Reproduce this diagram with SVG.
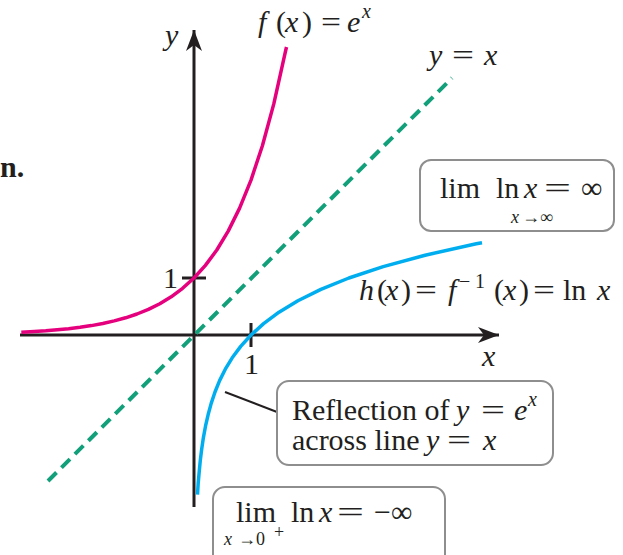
<svg xmlns="http://www.w3.org/2000/svg" width="623" height="555" viewBox="0 0 623 555">
<style>
text{font-family:"Liberation Serif","Times New Roman",serif;fill:#231f20;font-size:30px}
.i{font-style:italic}
.s{font-size:18px}
.sp{font-size:20px}
.box{fill:#ffffff;stroke:#8e8e8e;stroke-width:2}
.ax{stroke:#231f20;stroke-width:3;fill:none}
.tick{stroke:#231f20;stroke-width:3}
.exp{fill:none;stroke:#e5007d;stroke-width:3.5;stroke-linejoin:round}
.ln{fill:none;stroke:#00aeef;stroke-width:3.5;stroke-linejoin:round}
.yx{fill:none;stroke:#12a07a;stroke-width:4;stroke-dasharray:12 7}
.lead{stroke:#231f20;stroke-width:2}
</style>
<defs>
<marker id="ah" viewBox="-22 -10 24 20" refX="0" refY="0" markerWidth="24" markerHeight="20" markerUnits="userSpaceOnUse" orient="auto">
<path d="M0,0 L-21,-8 L-15,0 L-21,8 Z" fill="#231f20"/>
</marker>
</defs>

<text x="0" y="177" font-weight="bold">n.</text>

<g id="axes">
<line class="ax" x1="20" y1="335" x2="499" y2="335" marker-end="url(#ah)"/>
<line class="ax" x1="194" y1="507" x2="194" y2="30" marker-end="url(#ah)"/>
<line class="tick" x1="182" y1="278" x2="206" y2="278"/>
<line class="tick" x1="251" y1="323" x2="251" y2="347"/>
<text class="i" x="165" y="45">y</text>
<text class="i" x="482" y="366">x</text>
<text x="163" y="288">1</text>
<text x="244" y="374">1</text>
</g>

<g id="line-yx">
<line class="yx" x1="48" y1="481" x2="452" y2="78"/>
<text class="i" x="429" y="65">y</text>
<text x="452" y="65" textLength="22" lengthAdjust="spacingAndGlyphs">=</text>
<text class="i" x="484" y="65">x</text>
</g>

<g id="curve-exp">
<polyline class="exp" points="21.3,332.2 34.4,331.5 45.8,330.8 57.2,329.8 68.6,328.7 80,327.3 91.4,325.6 102.8,323.5 114.2,320.9 125.6,317.8 137,314 148.4,309.4 159.8,303.7 171.2,296.8 182.6,288.3 194,278 205.4,265.4 216.8,250 228.2,231.1 239.6,208.1 251,180.1 262.4,145.7 273.8,103.9 285.2,52.7 286.5,47"/>
<text class="i" x="258" y="32">f</text>
<text x="276" y="32">(</text>
<text class="i" x="285" y="32">x</text>
<text x="302" y="32">)</text>
<text x="321" y="32" textLength="20" lengthAdjust="spacingAndGlyphs">=</text>
<text class="i" x="347" y="32">e</text>
<text class="i sp" x="362" y="18">x</text>
</g>

<g id="curve-ln">
<polyline class="ln" points="197.5,494.6 198.2,483.2 199.2,471.8 200.3,460.4 201.7,449 203.4,437.6 205.5,426.2 208.1,414.8 211.2,403.4 215,392 219.6,380.6 225.3,369.2 232.2,357.8 240.7,346.4 251,335 263.6,323.6 279,312.2 297.9,300.8 320.9,289.4 348.9,278 383.2,266.6 425.1,255.2 476.3,243.8 482,242.7"/>
<text class="i" x="359" y="300">h</text>
<text x="377" y="300">(</text>
<text class="i" x="385" y="300">x</text>
<text x="401" y="300">)</text>
<text x="415" y="300" textLength="22" lengthAdjust="spacingAndGlyphs">=</text>
<text class="i" x="448" y="300">f</text>
<text class="sp" x="459" y="288">−</text>
<text class="sp" x="475" y="288">1</text>
<text x="494" y="300">(</text>
<text class="i" x="503" y="300">x</text>
<text x="519" y="300">)</text>
<text x="533" y="300" textLength="22" lengthAdjust="spacingAndGlyphs">=</text>
<text x="563" y="300">ln</text>
<text class="i" x="597" y="300">x</text>
</g>

<g id="connectors">
<line class="lead" x1="225" y1="392" x2="277" y2="412"/>
</g>

<g id="label-lim-inf">
<rect class="box" x="420" y="160" width="194" height="71" rx="11"/>
<text x="440" y="198">lim</text>
<text x="496" y="198">ln</text>
<text class="i" x="524" y="198">x</text>
<text x="544" y="198" textLength="27" lengthAdjust="spacingAndGlyphs">=</text>
<text x="581" y="198">∞</text>
<text class="i s" x="511" y="223">x</text>
<text class="s" x="522" y="223">→∞</text>
</g>

<g id="label-reflection">
<rect class="box" x="277" y="381" width="276" height="84" rx="12"/>
<text x="292" y="420">Reflection of</text>
<text class="i" x="456" y="420">y</text>
<text x="481" y="420" textLength="24" lengthAdjust="spacingAndGlyphs">=</text>
<text class="i" x="514" y="420">e</text>
<text class="i sp" x="528" y="406">x</text>
<text x="292" y="450">across line</text>
<text class="i" x="426" y="450">y</text>
<text x="447" y="450" textLength="24" lengthAdjust="spacingAndGlyphs">=</text>
<text class="i" x="483" y="450">x</text>
</g>

<g id="label-lim-neg-inf">
<rect class="box" x="213" y="487" width="232" height="80" rx="12"/>
<text x="236" y="522">lim</text>
<text x="291" y="522">ln</text>
<text class="i" x="319" y="522">x</text>
<text x="337" y="522" textLength="27" lengthAdjust="spacingAndGlyphs">=</text>
<text x="374" y="522">−∞</text>
<text class="i s" x="224" y="545">x</text>
<text class="s" x="238" y="545">→0</text>
<text class="s" x="274" y="538">+</text>
</g>
</svg>
